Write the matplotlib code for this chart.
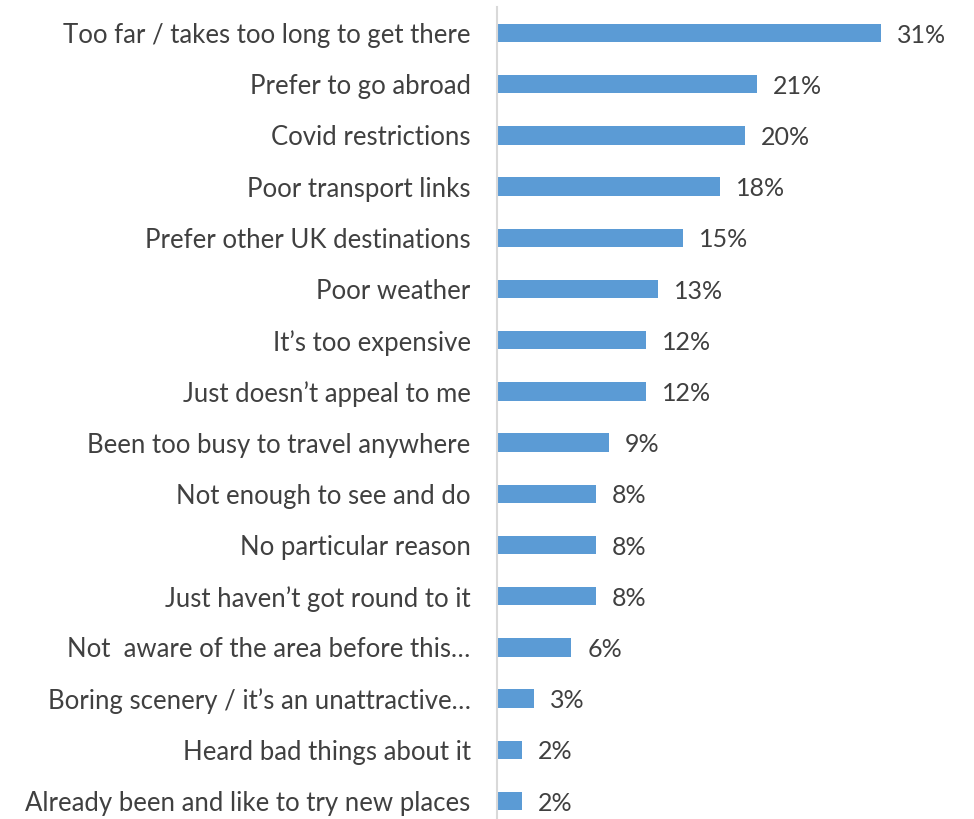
import matplotlib
matplotlib.use("Agg")
import matplotlib.pyplot as plt

reasons = [
    "Too far / takes too long to get there",
    "Prefer to go abroad",
    "Covid restrictions",
    "Poor transport links",
    "Prefer other UK destinations",
    "Poor weather",
    "It\u2019s too expensive",
    "Just doesn\u2019t appeal to me",
    "Been too busy to travel anywhere",
    "Not enough to see and do",
    "No particular reason",
    "Just haven\u2019t got round to it",
    "Not  aware of the area before this\u2026",
    "Boring scenery / it\u2019s an unattractive\u2026",
    "Heard bad things about it",
    "Already been and like to try new places",
]
shares = [31, 21, 20, 18, 15, 13, 12, 12, 9, 8, 8, 8, 6, 3, 2, 2]

plt.rcParams["font.family"] = ["Lato", "DejaVu Sans"]
W, H = 974, 819
fig = plt.figure(figsize=(W / 100, H / 100), dpi=100)
ax_left, ax_right = 497, 968
ax_top, ax_bottom = 7.4, 819
ax = fig.add_axes([ax_left / W, (H - ax_bottom) / H,
                   (ax_right - ax_left) / W, (ax_bottom - ax_top) / H])

ypos = list(range(len(reasons)))
bar_color = "#5B9BD5"
text_color = "#404040"
ax.barh(ypos, shares, height=0.36, color=bar_color)

# percentage labels just right of each bar end
for y, v in zip(ypos, shares):
    ax.annotate(f"{v}%", xy=(v, y), xytext=(16, -2), textcoords="offset pixels",
                va="center", ha="left", fontsize=18, color=text_color)

ax.set_xlim(0, 38)
ax.set_ylim(15.35, -0.5)
ax.set_yticks(ypos)
ax.set_yticklabels(reasons, fontsize=18.5, color=text_color)
ax.tick_params(axis="y", length=0, pad=19)
ax.set_xticks([])

for side in ["top", "right", "bottom"]:
    ax.spines[side].set_visible(False)
ax.spines["left"].set_color("#D9D9D9")
ax.spines["left"].set_linewidth(1.5)

fig.savefig("out.png", dpi=100)
